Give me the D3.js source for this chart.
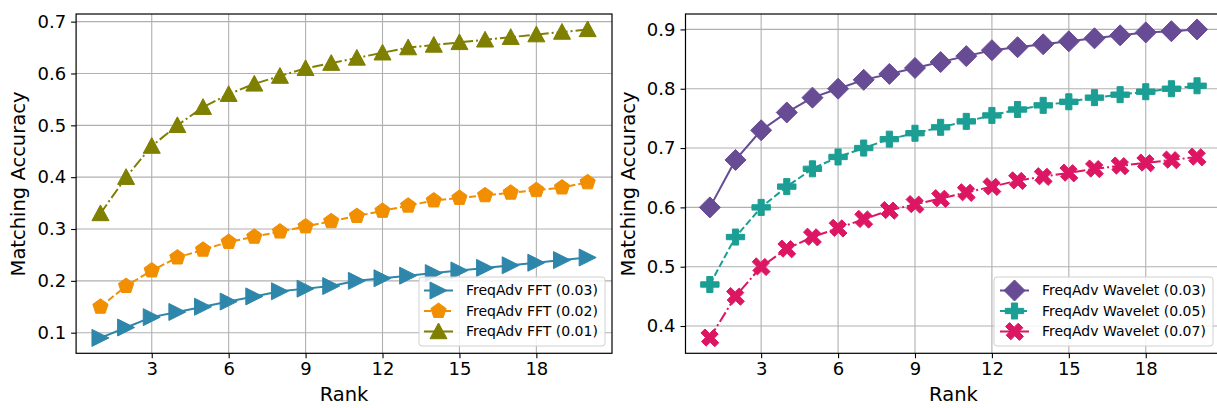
<!DOCTYPE html>
<html><head><meta charset="utf-8">
<script src="https://cdn.jsdelivr.net/npm/d3@7"></script>
<style>body{margin:0;background:#fff}svg{display:block;font-family:"DejaVu Sans",sans-serif}</style>
</head><body><svg id="c" width="1217" height="408"></svg>
<script>
const ranks = d3.range(1, 21);
const xTicks = [3, 6, 9, 12, 15, 18];
const yTicksLeft = [0.1, 0.2, 0.3, 0.4, 0.5, 0.6, 0.7];
const yTicksRight = [0.4, 0.5, 0.6, 0.7, 0.8, 0.9];

const fft003 = [0.09,0.11,0.13,0.14,0.15,0.16,0.17,0.18,0.185,0.19,0.20,0.205,0.21,0.215,0.22,0.225,0.23,0.235,0.24,0.245];
const fft002 = [0.15,0.19,0.22,0.245,0.26,0.275,0.285,0.295,0.305,0.315,0.325,0.335,0.345,0.355,0.36,0.365,0.37,0.375,0.38,0.39];
const fft001 = [0.33,0.40,0.46,0.50,0.535,0.56,0.58,0.595,0.61,0.62,0.63,0.64,0.65,0.655,0.66,0.665,0.67,0.675,0.68,0.685];
const wav003 = [0.60,0.68,0.73,0.76,0.785,0.80,0.815,0.825,0.835,0.845,0.855,0.865,0.87,0.875,0.88,0.885,0.89,0.895,0.897,0.90];
const wav005 = [0.47,0.55,0.60,0.635,0.665,0.685,0.70,0.715,0.725,0.735,0.745,0.755,0.765,0.772,0.778,0.785,0.79,0.795,0.80,0.805];
const wav007 = [0.38,0.45,0.50,0.53,0.55,0.565,0.58,0.595,0.605,0.615,0.625,0.635,0.645,0.652,0.658,0.665,0.67,0.675,0.68,0.685];

const leftLabels = ["FreqAdv FFT (0.03)", "FreqAdv FFT (0.02)", "FreqAdv FFT (0.01)"];
const rightLabels = ["FreqAdv Wavelet (0.03)", "FreqAdv Wavelet (0.05)", "FreqAdv Wavelet (0.07)"];

// marker shape paths (centered at 0,0), s = full size
const shapes = {
  tri_right: s => { const h = s/2; return `M${h},0L${-h},${-h}L${-h},${h}Z`; },
  tri_up: s => { const h = s/2; return `M0,${-h}L${h},${h*0.85}L${-h},${h*0.85}Z`; },
  pentagon: s => { const r = s/2; let p = ""; for (let i=0;i<5;i++){const a=-Math.PI/2+i*2*Math.PI/5; p+=(i?"L":"M")+(r*Math.cos(a)).toFixed(2)+","+(r*Math.sin(a)).toFixed(2);} return p+"Z"; },
  diamond: s => { const h = s/2; return `M0,${-h}L${h*1.0},0L0,${h}L${-h*1.0},0Z`; },
  plus: s => { const u = s/6; const v=[[-1,-3],[1,-3],[1,-1],[3,-1],[3,1],[1,1],[1,3],[-1,3],[-1,1],[-3,1],[-3,-1],[-1,-1]]; return "M"+v.map(d=>(d[0]*u*1.15).toFixed(2)+","+(d[1]*u).toFixed(2)).join("L")+"Z"; },
  xfill: s => { const u = s/6; const v=[[-1,-3],[1,-3],[1,-1],[3,-1],[3,1],[1,1],[1,3],[-1,3],[-1,1],[-3,1],[-3,-1],[-1,-1]]; const c=Math.SQRT1_2; return "M"+v.map(d=>{const x=d[0]*u*1.15,y=d[1]*u;return ((x-y)*c).toFixed(2)+","+((x+y)*c).toFixed(2);}).join("L")+"Z"; }
};

const leftSeries = [
  {vals: fft003, color: "#2E86AB", dash: null, shape: "tri_right", size: 17, label: leftLabels[0]},
  {vals: fft002, color: "#F18F01", dash: "7,3", shape: "pentagon", size: 16, label: leftLabels[1]},
  {vals: fft001, color: "#7F7F00", dash: "11,3,2,3", shape: "tri_up", size: 17, label: leftLabels[2]}
];
const rightSeries = [
  {vals: wav003, color: "#674B94", dash: null, shape: "diamond", size: 21, label: rightLabels[0]},
  {vals: wav005, color: "#1B9E93", dash: "7,3", shape: "plus", size: 16, label: rightLabels[1]},
  {vals: wav007, color: "#DC1663", dash: "11,3,2,3", shape: "xfill", size: 17, label: rightLabels[2]}
];

const svg = d3.select("#c");

function panel(cfg) {
  const x = d3.scaleLinear().domain([0.05, 20.95]).range([cfg.x0, cfg.x1]);
  const y = d3.scaleLinear().domain(cfg.ydom).range([353.3, 14]);
  const g = svg.append("g");
  const clipId = "clip" + cfg.id;
  svg.append("clipPath").attr("id", clipId).append("rect")
    .attr("x", cfg.x0).attr("y", 14).attr("width", cfg.x1 - cfg.x0).attr("height", 339.3);

  // grid
  g.append("g").selectAll("line").data(xTicks).join("line")
    .attr("x1", d => x(d)).attr("x2", d => x(d)).attr("y1", 14).attr("y2", 353.3)
    .attr("stroke", "#b0b0b0").attr("stroke-width", 1.1);
  g.append("g").selectAll("line").data(cfg.yticks).join("line")
    .attr("y1", d => y(d)).attr("y2", d => y(d)).attr("x1", cfg.x0).attr("x2", cfg.x1)
    .attr("stroke", "#b0b0b0").attr("stroke-width", 1.1);

  // axes
  const xa = g.append("g").attr("transform", "translate(0,353.3)")
    .call(d3.axisBottom(x).tickValues(xTicks).tickSize(5).tickPadding(4).tickFormat(d3.format("d")));
  const ya = g.append("g").attr("transform", `translate(${cfg.x0},0)`)
    .call(d3.axisLeft(y).tickValues(cfg.yticks).tickSize(5).tickPadding(5).tickFormat(d3.format(".1f")));
  [xa, ya].forEach(a => {
    a.select(".domain").remove();
    a.selectAll("line").attr("stroke", "#000").attr("stroke-width", 1.1);
    a.selectAll("text").attr("font-size", 18).attr("fill", "#000").attr("font-family", "DejaVu Sans");
  });

  // lines and markers
  const line = d3.line().x((d, i) => x(ranks[i])).y(d => y(d));
  const pg = g.append("g").attr("clip-path", `url(#${clipId})`);
  cfg.series.forEach(s => {
    pg.append("path").attr("d", line(s.vals)).attr("fill", "none")
      .attr("stroke", s.color).attr("stroke-width", 2)
      .attr("stroke-dasharray", s.dash);
    pg.append("g").selectAll("path").data(s.vals).join("path")
      .attr("transform", (d, i) => `translate(${x(ranks[i])},${y(d)})`)
      .attr("d", shapes[s.shape](s.size)).attr("fill", s.color)
      .attr("stroke", s.color).attr("stroke-width", 1).attr("stroke-linejoin", "miter");
  });

  // frame
  g.append("rect").attr("x", cfg.x0).attr("y", 14).attr("width", cfg.x1 - cfg.x0).attr("height", 339.3)
    .attr("fill", "none").attr("stroke", "#000").attr("stroke-width", 1.2);

  // labels
  g.append("text").attr("x", (cfg.x0 + cfg.x1) / 2).attr("y", 401).attr("text-anchor", "middle")
    .attr("font-size", 19.5).text("Rank");
  g.append("text").attr("transform", `translate(${cfg.ylabX},184) rotate(-90)`)
    .attr("text-anchor", "middle").attr("dy", "0.35em").attr("font-size", 19.5).text("Matching Accuracy");

  // legend
  const L = cfg.legend;
  const lg = g.append("g");
  lg.append("rect").attr("x", L.x).attr("y", 277).attr("width", L.w).attr("height", 69).attr("rx", 3)
    .attr("fill", "#fff").attr("fill-opacity", 0.85).attr("stroke", "#d0d0d0").attr("stroke-width", 1);
  cfg.series.forEach((s, i) => {
    const cy = 290.5 + i * 20.5;
    lg.append("line").attr("x1", L.lx).attr("x2", L.lx + 29).attr("y1", cy).attr("y2", cy)
      .attr("stroke", s.color).attr("stroke-width", 2).attr("stroke-dasharray", s.dash);
    lg.append("path").attr("transform", `translate(${L.lx + 14.5},${cy})`).attr("d", shapes[s.shape](s.size))
      .attr("fill", s.color).attr("stroke", s.color).attr("stroke-width", 1);
    lg.append("text").attr("x", L.tx).attr("y", cy).attr("dy", "0.35em").attr("font-size", 14).text(s.label);
  });
}

panel({id: "L", x0: 76.1, x1: 612, ydom: [0.06025, 0.71475], yticks: yTicksLeft, series: leftSeries, ylabX: 18,
  legend: {x: 419, w: 186, lx: 424, tx: 466}});
panel({id: "R", x0: 685.5, x1: 1221.4, ydom: [0.354, 0.926], yticks: yTicksRight, series: rightSeries, ylabX: 628,
  legend: {x: 994, w: 219, lx: 1000, tx: 1042}});
</script></body></html>
